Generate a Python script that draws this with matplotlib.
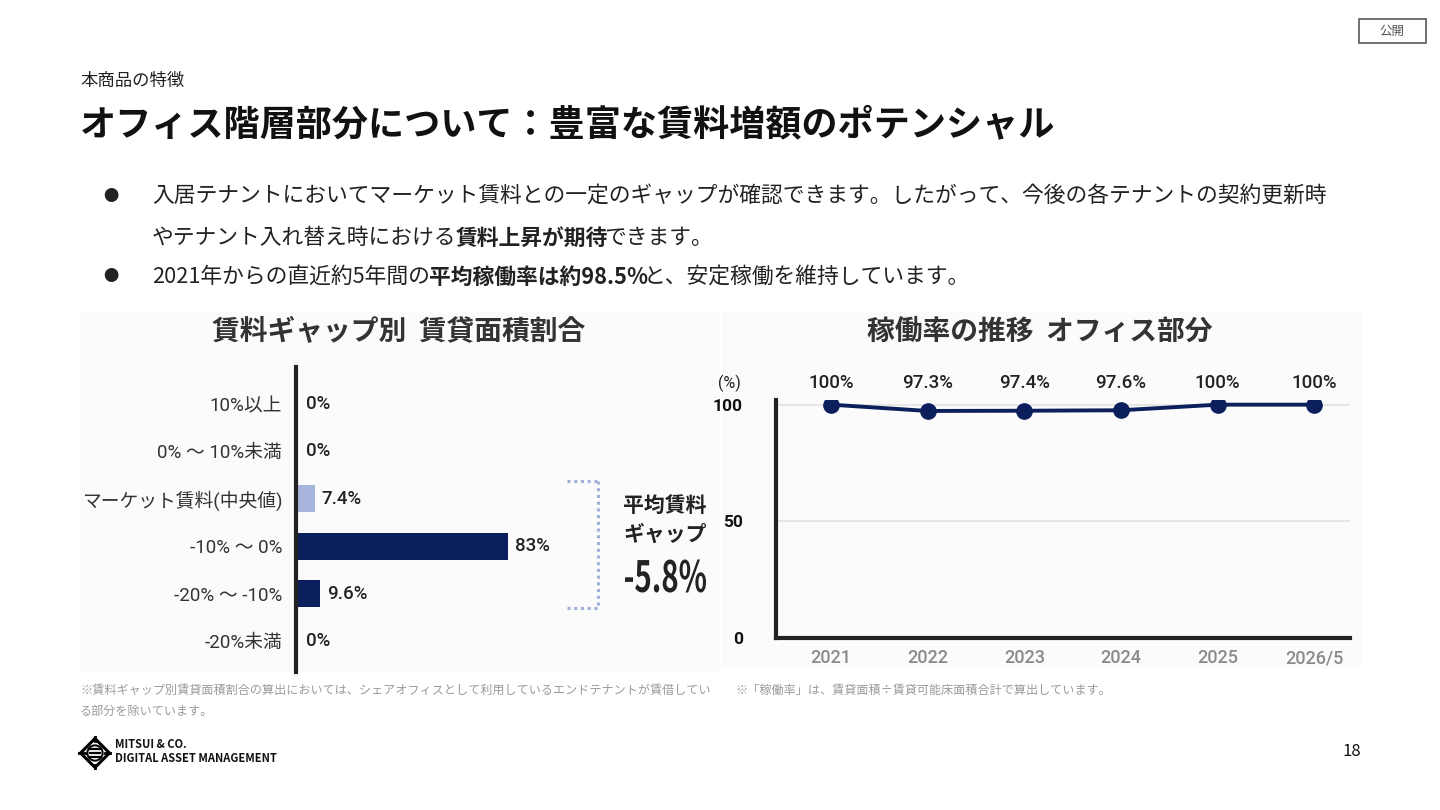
import matplotlib
matplotlib.use('Agg')
import matplotlib.pyplot as plt
import matplotlib.patches as mpatches
import matplotlib.transforms as mtransforms
from matplotlib.textpath import TextPath
from matplotlib.font_manager import FontProperties

plt.rcParams['font.family'] = ['Noto Sans CJK JP', 'DejaVu Sans']
CHART_FONT = ['Roboto', 'Noto Sans CJK JP', 'DejaVu Sans']

# ---- data ----
gap_labels = ['10%以上', '0% ～ 10%未満', 'マーケット賃料(中央値)', '-10% ～ 0%', '-20% ～ -10%', '-20%未満']
gap_share = [0, 0, 7.4, 83, 9.6, 0]
avg_gap = '-5.8%'

years = ['2021', '2022', '2023', '2024', '2025', '2026/5']
occupancy = [100, 97.3, 97.4, 97.6, 100, 100]
occ_ticks = [0, 50, 100]

NAVY = '#0b1f5c'
LIGHT = '#a7b5dc'
DARK = '#222222'
W, H = 1440, 810

fig = plt.figure(figsize=(W / 100, H / 100), dpi=100)
fig.patch.set_facecolor('white')


def T(x, y, s, **kw):
    kw.setdefault('va', 'center')
    kw.setdefault('color', DARK)
    return fig.text(x / W, 1 - y / H, s, **kw)


def run(x, y, parts, size):
    # draws text pieces one after another on one line
    r = fig.canvas.get_renderer()
    for s, wt in parts:
        t = T(x, y, s, fontsize=size, fontweight=wt, ha='left')
        x += t.get_window_extent(renderer=r).width - (4 if wt == 'bold' else 1)


def ax_px(l, t, r, b):
    return fig.add_axes([l / W, 1 - b / H, (r - l) / W, (b - t) / H])


# faint backgrounds of the two chart images
for (l, t, r, b) in [(80, 312, 720, 672), (722, 312, 1362, 668)]:
    fig.patches.append(mpatches.Rectangle((l / W, 1 - b / H), (r - l) / W, (b - t) / H,
                                          transform=fig.transFigure, facecolor='#fbfbfb',
                                          edgecolor='none', zorder=-5))

# ---- header ----
T(80, 81, '本商品の特徴', fontsize=12.5)
T(80, 125, 'オフィス階層部分について：豊富な賃料増額のポテンシャル', fontsize=26, fontweight='bold', color='#111111')

fig.patches.append(mpatches.Rectangle((1359 / W, 1 - 43 / H), 67 / W, 24 / H, transform=fig.transFigure,
                                      facecolor='white', edgecolor='#666666', linewidth=1.3))
T(1392, 31, '公開', fontsize=9, ha='center', color='#555555')

for by in (196, 277):
    T(111, by, '●', fontsize=11, ha='center')
run(152, 196, [('入居テナントにおいてマーケット賃料との一定のギャップが確認できます。したがって、今後の各テナントの契約更新時', 'normal')], 15.7)
run(152, 238, [('やテナント入れ替え時における', 'normal'), ('賃料上昇が期待', 'bold'), ('できます。', 'normal')], 15.7)
run(152, 277, [('2021年からの直近約5年間の', 'normal'), ('平均稼働率は約98.5%', 'bold'),
               ('と、安定稼働を維持しています。', 'normal')], 15.7)

# ---- left: rent gap bar chart ----
T(399, 332, '賃料ギャップ別  賃貸面積割合', fontsize=20, fontweight='bold', ha='center', color='#333333')

ax1 = ax_px(296, 367, 551, 672)
ax1.set_facecolor('none')
ypos = list(range(len(gap_labels)))
colors = [LIGHT if lab.startswith('マーケット') else NAVY for lab in gap_labels]
ax1.barh(ypos, gap_share, height=0.57, color=colors)
ax1.set_xlim(0, 100)
ax1.set_ylim(5.65, -0.78)
for sp in ['top', 'right', 'bottom']:
    ax1.spines[sp].set_visible(False)
ax1.spines['left'].set_linewidth(3)
ax1.spines['left'].set_color(DARK)
ax1.set_xticks([])
ax1.set_yticks(ypos)
ax1.set_yticklabels(gap_labels, fontsize=13.5, color='#333333', family=CHART_FONT)
ax1.tick_params(axis='y', length=0, pad=10)
for y, v in zip(ypos, gap_share):
    ax1.annotate(f'{v:g}%', (v, y), xytext=(10 if v == 0 else 7, 0), textcoords='offset pixels',
                 va='center', ha='left', fontsize=13.5, fontweight='medium', color=DARK,
                 family=CHART_FONT)

# bracket for average gap
brk = dict(color='#9fb0d8', linewidth=2.2, linestyle=(0, (1, 1.2)), transform=fig.transFigure)
fig.lines.append(plt.Line2D([567 / W, 598 / W], [1 - 481 / H] * 2, **brk))
fig.lines.append(plt.Line2D([567 / W, 598 / W], [1 - 608 / H] * 2, **brk))
fig.lines.append(plt.Line2D([598 / W] * 2, [1 - 481 / H, 1 - 608 / H], **brk))
T(665, 505, '平均賃料', fontsize=15, fontweight='bold', ha='center')
T(665, 534, 'ギャップ', fontsize=15, fontweight='bold', ha='center')

# condensed big number: text path squeezed horizontally
tp = TextPath((0, 0), avg_gap, size=40, prop=FontProperties(family='Noto Sans CJK JP', weight='bold'))
ex = tp.get_extents()
sx, sy = 81 / ex.width, 33 / ex.height
tr = (mtransforms.Affine2D().translate(-ex.x0 - ex.width / 2, -ex.y0 - ex.height / 2)
      .scale(sx, sy).translate(665.5, H - 576))
fig.patches.append(mpatches.PathPatch(tp, transform=tr, facecolor=DARK, edgecolor='none'))

# ---- right: occupancy line chart ----
T(1040, 332, '稼働率の推移  オフィス部分', fontsize=20, fontweight='bold', ha='center', color='#333333')

ax2 = ax_px(776, 400, 1350, 638)
ax2.set_facecolor('none')
xs = list(range(len(years)))
ax2.plot(xs, occupancy, color=NAVY, linewidth=2.8, marker='o', markersize=11, zorder=3)
ax2.set_xlim(-0.57, 5.37)
ax2.set_ylim(0, 102)
ax2.set_yticks(occ_ticks)
ax2.set_yticklabels([str(t) for t in occ_ticks], fontsize=12.5, fontweight='bold', color='#111111',
                    family=CHART_FONT)
ax2.set_xticks(xs)
ax2.set_xticklabels(years, fontsize=13, fontweight='medium', color='#8a8a8a', family=CHART_FONT)
ax2.tick_params(axis='both', length=0)
ax2.tick_params(axis='y', pad=24)
ax2.tick_params(axis='x', pad=8)
ax2.grid(axis='y', color='#e2e2e2', linewidth=1.2)
ax2.set_axisbelow(True)
for sp in ['top', 'right']:
    ax2.spines[sp].set_visible(False)
for sp in ['left', 'bottom']:
    ax2.spines[sp].set_linewidth(3)
    ax2.spines[sp].set_color(DARK)
lbl_tr = mtransforms.blended_transform_factory(ax2.transData, ax2.transAxes)
for x, v in zip(xs, occupancy):
    ax2.text(x, 1.07, f'{v:g}%', transform=lbl_tr, ha='center', va='center',
             fontsize=13.5, fontweight='medium', color=DARK, clip_on=False, family=CHART_FONT)
T(729, 383, '(%)', fontsize=11.5, ha='center', family=CHART_FONT)

# ---- footnotes ----
T(80, 690, '※賃料ギャップ別賃貸面積割合の算出においては、シェアオフィスとして利用しているエンドテナントが賃借してい',
  fontsize=8.7, color='#9a9a9a')
T(80, 711, 'る部分を除いています。', fontsize=8.7, color='#9a9a9a')
T(735, 690, '※「稼働率」は、賃貸面積÷賃貸可能床面積合計で算出しています。', fontsize=8.7, color='#9a9a9a')

# ---- logo & page number ----
lg = ax_px(78, 736, 112, 770)
lg.set_xlim(-1, 1)
lg.set_ylim(-1, 1)
lg.axis('off')
lg.plot([0, 0.85, 0, -0.85, 0], [0.85, 0, -0.85, 0, 0.85], color='black', linewidth=2.2)
lg.plot([-1, -0.6], [0, 0], color='black', linewidth=2)
lg.plot([0.6, 1], [0, 0], color='black', linewidth=2)
lg.plot([0, 0], [0.7, 1], color='black', linewidth=2)
lg.plot([0, 0], [-0.7, -1], color='black', linewidth=2)
for yy in (0.22, 0, -0.22):
    lg.plot([-0.3, 0.3], [yy, yy], color='black', linewidth=1.6)
lg.add_patch(mpatches.Circle((0, 0), 0.45, fill=False, edgecolor='black', linewidth=1.4))
T(115, 745, 'MITSUI & CO.', fontsize=8, fontweight='bold', color='#111111')
T(115, 759, 'DIGITAL ASSET MANAGEMENT', fontsize=8, fontweight='bold', color='#111111')
T(1352, 752, '18', fontsize=12, ha='center', color='#111111')

fig.savefig('out.png', dpi=100)
